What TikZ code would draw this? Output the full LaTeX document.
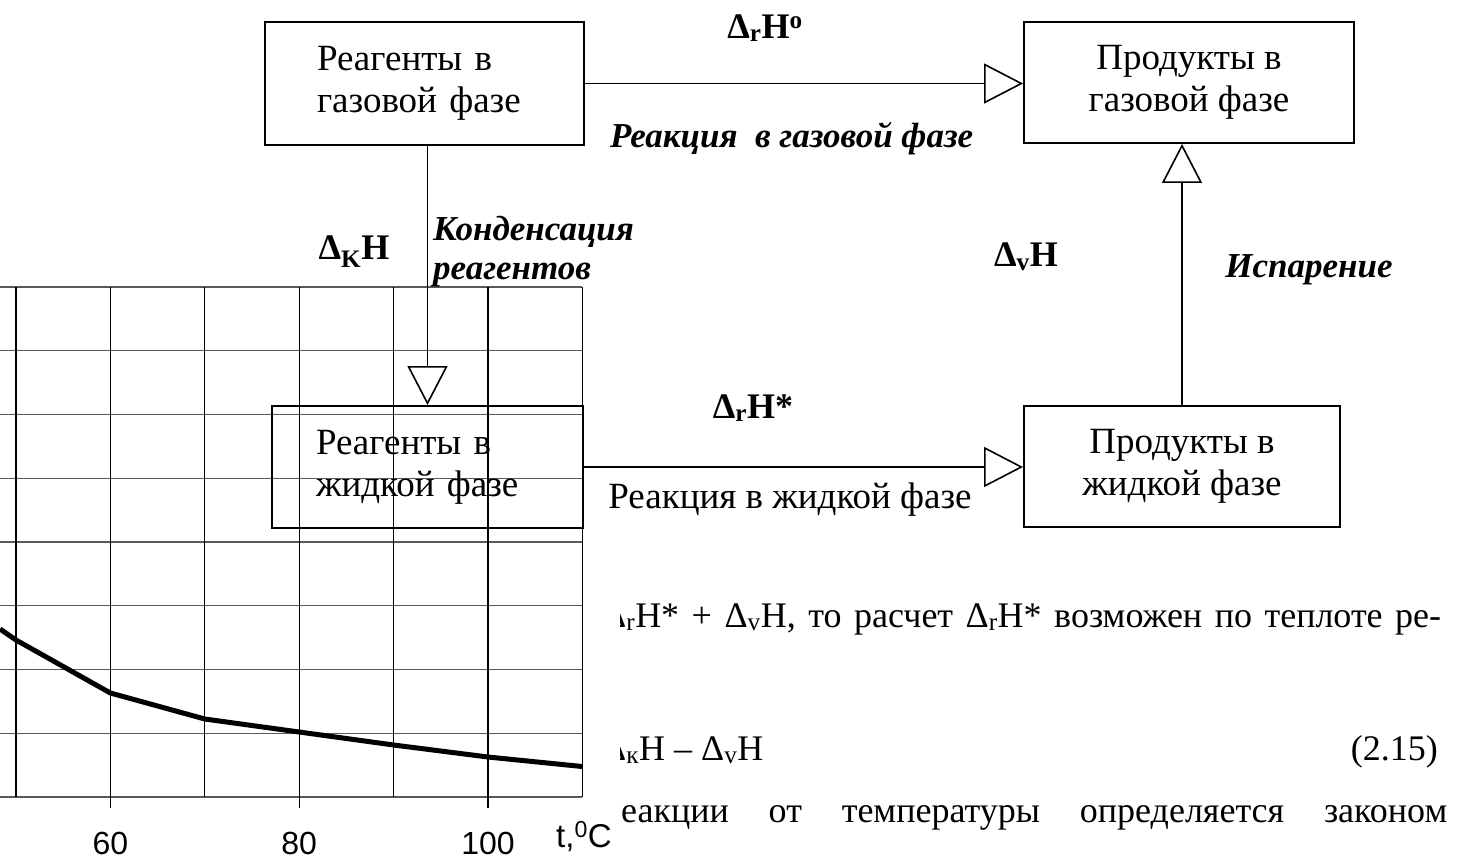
\documentclass[tikz,border=0pt]{standalone}
\usepackage{fontspec}
\setmainfont{Liberation Serif}
\newfontfamily\axisfont{Liberation Sans}
\usetikzlibrary{arrows.meta}
\begin{document}
\begin{tikzpicture}[x=1pt,y=-1pt,
  box/.style={draw, line width=1.9pt, font=\fontsize{37}{42}\selectfont, inner ysep=0pt},
  flow/.style={line width=1.6pt, -{Triangle[open,length=39pt,width=40pt,line width=1.6pt]}},
  lbl/.style={inner sep=0pt, font=\fontsize{36}{40}\selectfont\bfseries},
  lbli/.style={inner sep=0pt, font=\fontsize{35}{39}\selectfont\bfseries\itshape},
  body/.style={inner sep=0pt, font=\fontsize{36}{40}\selectfont, anchor=base west},
  hgrid/.style={line width=1.3pt, black!65},
  vgrid/.style={line width=1.3pt, black},
  ax/.style={inner sep=0pt, font=\fontsize{32}{36}\selectfont\axisfont}
]
\useasboundingbox (0,0) rectangle (1466,860);

% graph grid
\foreach \k in {0,...,8} \draw[hgrid] (0,287+63.75*\k) -- (582.4,287+63.75*\k);
\foreach \j in {0,...,6} \draw[vgrid] (16+94.4*\j,287) -- (16+94.4*\j,797);
\foreach \j in {1,3,5} \draw[vgrid] (16+94.4*\j,797) -- (16+94.4*\j,808);
\draw[line width=5pt, line join=round] (0,629) -- (16,640) -- (110.4,693) -- (204.8,719) -- (299.2,732) -- (393.6,745) -- (488,757) -- (582,766.5);
\node[ax, anchor=base] (l60) at (110.4,854) {60};
\node[ax, anchor=base] (l80) at (299.2,854) {80};
\node[ax, anchor=base] (l100) at (488,854) {100};
\node[ax, anchor=base west, font=\fontsize{33}{36}\selectfont\axisfont] (tC) at (556,847) {t,\textsuperscript{0}C};

% body text
\begin{scope}
\clip (620,560) rectangle (1466,860);
\node[body] (L1) at (603,627) {\makebox[838pt][s]{Δ\textsubscript{r}H* + Δ\textsubscript{v}H, то расчет Δ\textsubscript{r}H* возможен по теплоте ре-}};
\node[body] (L2) at (603,760) {Δ\textsubscript{к}H – Δ\textsubscript{v}H};
\node[body, anchor=base east] (eq) at (1438,760) {(2.15)};
\node[body] (L3) at (603,822) {\makebox[844pt][s]{реакции от температуры определяется законом}};
\end{scope}

% diagram
\node[box, minimum width=319pt, minimum height=123pt, text width=215pt, inner xsep=52pt, align=left] (A) at (424.5,83.5) {Реагенты в\\газовой фазе};
\node[box, minimum width=330pt, minimum height=121pt, align=center] (B) at (1189,82.5) {Продукты в\\газовой фазе};
\node[box, minimum width=311pt, minimum height=122pt, text width=223pt, inner xsep=44pt, align=left] (C) at (427.5,467) {Реагенты в\\жидкой фазе};
\node[box, minimum width=316pt, minimum height=121pt, align=center] (D) at (1182,466.5) {Продукты в\\жидкой фазе};

\draw[flow] (A.east) -- (A.east -| B.west);
\draw[flow] (C.east) -- (C.east -| D.west);
\draw[flow] (A.south -| C.north) -- (C.north);
\draw[flow] (D.north) -- (D.north |- B.south);

\node[lbl] (dHo) at (765,28) {Δ\textsubscript{r}H\textsuperscript{o}};
\node[lbli, anchor=west] (rg) at (610,139) {Реакция \ в газовой фазе};
\node[lbli, anchor=west, align=left] (kond) at (433,252) {Конденсация\\реагентов};
\node[lbl] (dKH) at (354,252) {Δ\textsubscript{K}H};
\node[lbl] (dvH) at (1026,257) {Δ\textsubscript{v}H};
\node[lbli] (isp) at (1309,270) {Испарение};
\node[lbl] (dHs) at (753,408) {Δ\textsubscript{r}H*};
\node[inner sep=0pt, font=\fontsize{37}{42}\selectfont] (rl) at (790,500) {Реакция в жидкой фазе};
\end{tikzpicture}
\end{document}
